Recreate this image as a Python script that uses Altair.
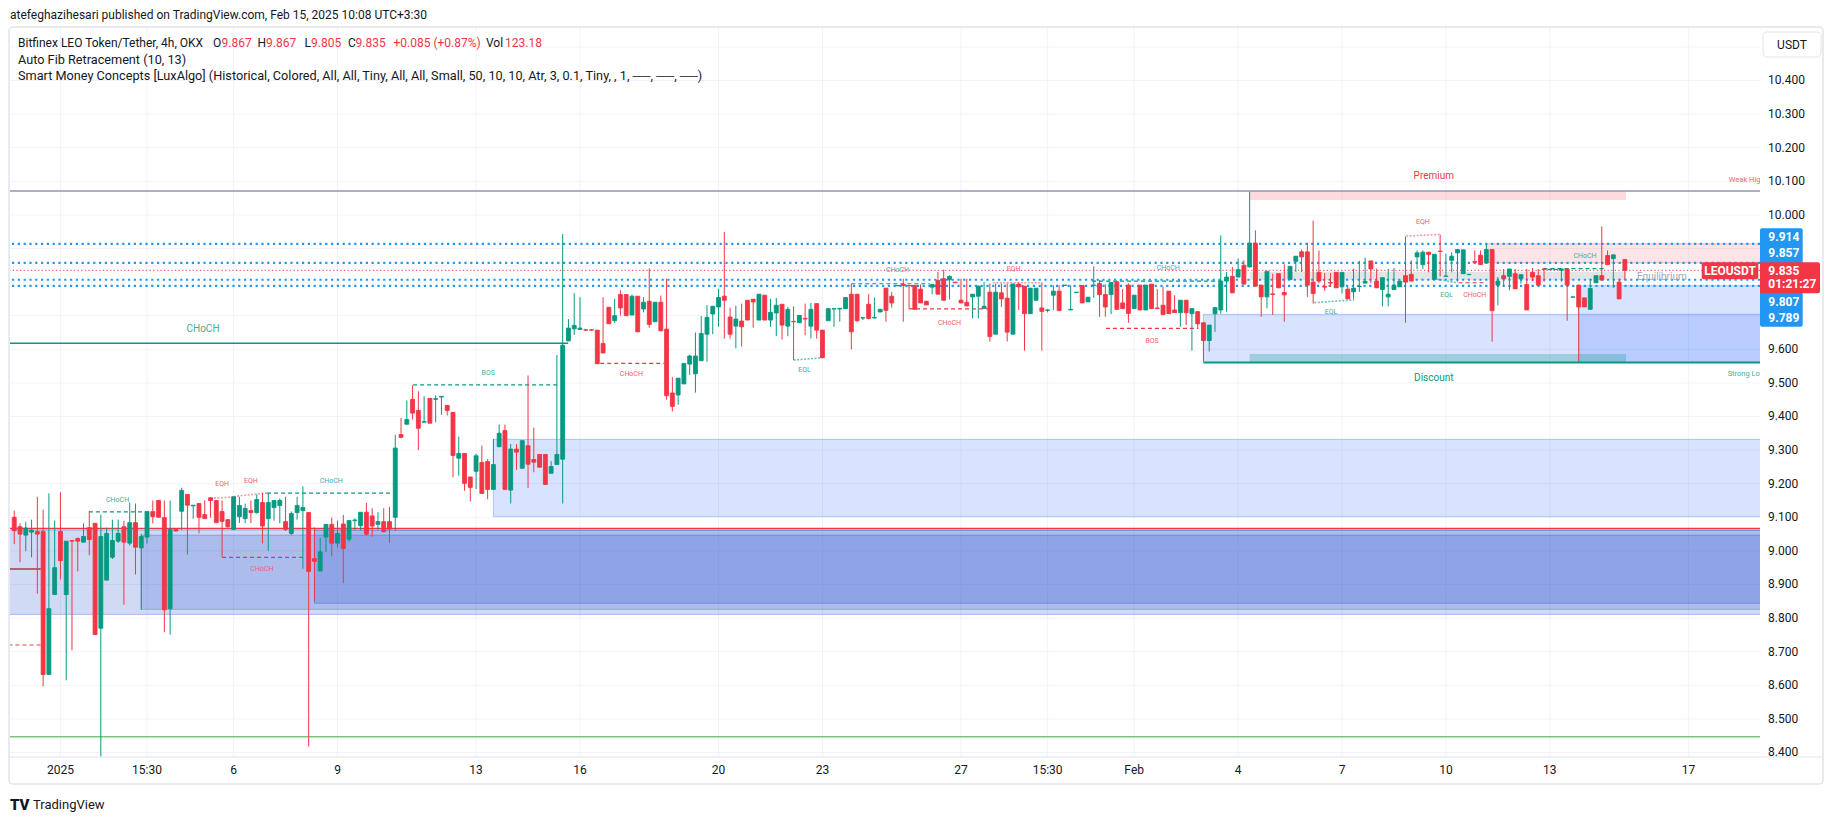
import altair as alt
import pandas as pd

# ---------------------------------------------------------------- data
# 4h bars; bar index n = 0 is 2025-01-01 00:00, first visible bar is n = -8
N0 = -8
opens = [
    9.100, 9.072, 9.047, 9.056, 9.058, 9.058, 8.632, 8.870, 9.058, 8.870,
    9.031, 9.037, 9.026, 9.069, 9.082, 8.770, 8.913, 8.981, 9.029, 9.072,
    9.023, 9.084, 9.009, 9.041, 9.117, 9.150, 9.099, 8.828, 9.064, 9.118,
    9.168, 9.134, 9.141, 9.108, 9.158, 9.150, 9.117, 9.093, 9.064, 9.102,
    9.096, 9.120, 9.114, 9.144, 9.096, 9.129, 9.135, 9.087, 9.052, 9.114,
    9.120, 9.114, 8.977, 8.940, 9.041, 9.079, 9.023, 9.080, 9.035, 9.090,
    9.075, 9.115, 9.104, 9.079, 9.087, 9.087, 9.100, 9.346, 9.377, 9.451,
    9.418, 9.383, 9.454, 9.451, 9.458, 9.433, 9.412, 9.276, 9.290, 9.220,
    9.237, 9.263, 9.266, 9.183, 9.310, 9.358, 9.181, 9.303, 9.246, 9.313,
    9.272, 9.287, 9.287, 9.231, 9.257, 9.273, 9.625, 9.661, 9.659, 9.658,
    9.658, 9.657, 9.617, 9.725, 9.685, 9.763, 9.763, 9.702, 9.758, 9.720,
    9.743, 9.682, 9.740, 9.660, 9.470, 9.464, 9.497, 9.556, 9.527, 9.566,
    9.645, 9.705, 9.726, 9.758, 9.696, 9.669, 9.684, 9.746, 9.749, 9.687,
    9.761, 9.687, 9.708, 9.734, 9.669, 9.683, 9.679, 9.692, 9.669, 9.736,
    9.657, 9.685, 9.720, 9.720, 9.721, 9.764, 9.764, 9.693, 9.734, 9.693,
    9.711, 9.782, 9.758, 9.789, 9.793, 9.790, 9.790, 9.779, 9.743, 9.785,
    9.805, 9.810, 9.807, 9.800, 9.746, 9.740, 9.756, 9.758, 9.722, 9.770,
    9.645, 9.768, 9.752, 9.645, 9.794, 9.788, 9.706, 9.746, 9.723, 9.716,
    9.761, 9.773, 9.790, 9.717, 9.769, 9.790, 9.741, 9.790, 9.796, 9.763,
    9.763, 9.801, 9.738, 9.791, 9.721, 9.791, 9.717, 9.794, 9.723, 9.731,
    9.773, 9.717, 9.709, 9.746, 9.706, 9.712, 9.679, 9.626, 9.706, 9.717,
    9.803, 9.817, 9.815, 9.850, 9.845, 9.916, 9.791, 9.756, 9.765, 9.825,
    9.769, 9.808, 9.862, 9.890, 9.890, 9.800, 9.829, 9.787, 9.799, 9.829,
    9.786, 9.779, 9.771, 9.787, 9.797, 9.863, 9.803, 9.778, 9.756, 9.778,
    9.786, 9.819, 9.823, 9.875, 9.852, 9.889, 9.808, 9.892, 9.817, 9.865,
    9.887, 9.825, 9.822, 9.861, 9.880, 9.857, 9.897, 9.791, 9.819, 9.817,
    9.825, 9.810, 9.793, 9.829, 9.819, 9.839, 9.837, 9.837, 9.835, 9.839,
    9.755, 9.791, 9.753, 9.719, 9.798, 9.819, 9.879, 9.870, 9.800, 9.867,
]
highs = [
    9.120, 9.082, 9.087, 9.093, 9.161, 9.123, 9.171, 9.090, 9.174, 9.029,
    9.031, 9.040, 9.082, 9.118, 9.082, 9.108, 9.069, 9.093, 9.093, 9.090,
    9.144, 9.141, 9.051, 9.117, 9.150, 9.150, 9.150, 9.150, 9.064, 9.188,
    9.168, 9.136, 9.141, 9.150, 9.158, 9.150, 9.150, 9.093, 9.161, 9.161,
    9.141, 9.150, 9.168, 9.173, 9.173, 9.150, 9.156, 9.161, 9.117, 9.161,
    9.192, 9.114, 9.070, 9.039, 9.079, 9.099, 9.090, 9.107, 9.092, 9.097,
    9.115, 9.143, 9.127, 9.115, 9.127, 9.131, 9.346, 9.396, 9.448, 9.493,
    9.475, 9.460, 9.454, 9.463, 9.460, 9.433, 9.412, 9.340, 9.290, 9.220,
    9.289, 9.313, 9.273, 9.333, 9.376, 9.376, 9.318, 9.318, 9.328, 9.522,
    9.367, 9.287, 9.287, 9.267, 9.583, 9.943, 9.690, 9.767, 9.755, 9.660,
    9.660, 9.657, 9.755, 9.725, 9.750, 9.776, 9.763, 9.763, 9.758, 9.755,
    9.841, 9.740, 9.760, 9.810, 9.517, 9.514, 9.558, 9.584, 9.650, 9.699,
    9.731, 9.728, 9.780, 9.949, 9.724, 9.730, 9.736, 9.746, 9.749, 9.764,
    9.761, 9.750, 9.753, 9.734, 9.726, 9.728, 9.701, 9.736, 9.738, 9.736,
    9.657, 9.721, 9.721, 9.722, 9.754, 9.795, 9.764, 9.694, 9.764, 9.754,
    9.719, 9.782, 9.771, 9.791, 9.810, 9.791, 9.790, 9.793, 9.743, 9.793,
    9.830, 9.837, 9.820, 9.800, 9.810, 9.810, 9.764, 9.790, 9.800, 9.796,
    9.796, 9.796, 9.796, 9.796, 9.798, 9.788, 9.782, 9.782, 9.798, 9.720,
    9.791, 9.791, 9.791, 9.791, 9.770, 9.790, 9.755, 9.847, 9.806, 9.793,
    9.799, 9.801, 9.779, 9.796, 9.761, 9.791, 9.791, 9.794, 9.779, 9.786,
    9.773, 9.761, 9.746, 9.746, 9.721, 9.712, 9.679, 9.672, 9.724, 9.939,
    9.830, 9.845, 9.870, 9.865, 10.069, 9.954, 9.791, 9.832, 9.825, 9.825,
    9.853, 9.847, 9.877, 9.897, 9.917, 9.983, 9.894, 9.827, 9.827, 9.829,
    9.829, 9.786, 9.840, 9.863, 9.873, 9.863, 9.840, 9.813, 9.839, 9.842,
    9.803, 9.936, 9.865, 9.894, 9.894, 9.889, 9.883, 9.941, 9.885, 9.889,
    9.897, 9.896, 9.824, 9.894, 9.894, 9.914, 9.897, 9.815, 9.839, 9.839,
    9.839, 9.822, 9.839, 9.842, 9.839, 9.840, 9.839, 9.839, 9.839, 9.839,
    9.756, 9.791, 9.753, 9.810, 9.819, 9.966, 9.894, 9.882, 9.810, 9.867,
]
lows = [
    9.020, 8.966, 8.999, 8.981, 8.873, 8.597, 8.632, 8.870, 8.915, 8.615,
    8.704, 8.939, 9.026, 8.987, 8.751, 8.388, 8.913, 8.976, 9.024, 8.840,
    9.016, 8.930, 8.825, 9.022, 9.082, 9.100, 8.758, 8.751, 9.059, 9.062,
    8.989, 9.096, 9.052, 9.096, 9.099, 9.084, 8.982, 9.069, 9.064, 9.083,
    9.083, 9.083, 9.111, 9.022, 9.000, 9.090, 9.082, 9.059, 9.047, 9.093,
    8.947, 8.418, 8.850, 8.940, 8.997, 8.984, 9.010, 8.904, 9.027, 9.062,
    9.062, 9.045, 9.042, 9.062, 9.055, 9.024, 9.060, 9.335, 9.377, 9.391,
    9.300, 9.383, 9.380, 9.383, 9.405, 9.403, 9.219, 9.224, 9.179, 9.147,
    9.184, 9.171, 9.154, 9.183, 9.310, 9.183, 9.141, 9.241, 9.246, 9.187,
    9.234, 9.249, 9.198, 9.231, 9.257, 9.141, 9.625, 9.643, 9.659, 9.655,
    9.655, 9.557, 9.589, 9.676, 9.679, 9.700, 9.700, 9.702, 9.652, 9.710,
    9.664, 9.682, 9.655, 9.450, 9.415, 9.435, 9.497, 9.524, 9.471, 9.566,
    9.563, 9.645, 9.667, 9.632, 9.632, 9.603, 9.608, 9.687, 9.664, 9.687,
    9.687, 9.667, 9.639, 9.629, 9.639, 9.568, 9.679, 9.642, 9.632, 9.632,
    9.575, 9.685, 9.667, 9.682, 9.721, 9.600, 9.682, 9.687, 9.689, 9.692,
    9.711, 9.682, 9.724, 9.788, 9.682, 9.720, 9.719, 9.738, 9.732, 9.764,
    9.764, 9.746, 9.748, 9.798, 9.738, 9.729, 9.692, 9.692, 9.720, 9.623,
    9.645, 9.726, 9.623, 9.645, 9.717, 9.596, 9.706, 9.746, 9.596, 9.710,
    9.717, 9.715, 9.789, 9.717, 9.768, 9.738, 9.741, 9.753, 9.697, 9.697,
    9.705, 9.717, 9.721, 9.679, 9.721, 9.717, 9.717, 9.721, 9.721, 9.703,
    9.706, 9.709, 9.667, 9.672, 9.596, 9.662, 9.563, 9.593, 9.652, 9.706,
    9.712, 9.768, 9.815, 9.794, 9.845, 9.788, 9.697, 9.722, 9.702, 9.783,
    9.682, 9.808, 9.830, 9.830, 9.756, 9.736, 9.796, 9.774, 9.786, 9.783,
    9.766, 9.750, 9.750, 9.771, 9.797, 9.797, 9.783, 9.728, 9.728, 9.778,
    9.786, 9.679, 9.803, 9.839, 9.839, 9.829, 9.808, 9.817, 9.817, 9.829,
    9.801, 9.825, 9.821, 9.859, 9.852, 9.857, 9.623, 9.731, 9.786, 9.776,
    9.780, 9.796, 9.717, 9.803, 9.788, 9.801, 9.836, 9.836, 9.801, 9.685,
    9.754, 9.563, 9.726, 9.719, 9.798, 9.806, 9.852, 9.783, 9.750, 9.805,
]
closes = [
    9.060, 9.050, 9.068, 9.062, 9.050, 8.632, 8.828, 8.950, 8.971, 9.029,
    9.029, 9.029, 9.043, 9.034, 8.751, 9.043, 9.052, 9.031, 9.052, 9.026,
    9.084, 9.011, 9.043, 9.117, 9.102, 9.100, 8.825, 9.064, 9.059, 9.180,
    9.136, 9.136, 9.100, 9.096, 9.150, 9.084, 9.088, 9.072, 9.161, 9.135,
    9.126, 9.114, 9.153, 9.074, 9.144, 9.150, 9.150, 9.064, 9.111, 9.135,
    9.129, 8.939, 8.969, 8.997, 9.079, 9.023, 9.052, 9.007, 9.090, 9.092,
    9.115, 9.050, 9.074, 9.087, 9.057, 9.065, 9.306, 9.338, 9.391, 9.410,
    9.365, 9.385, 9.380, 9.453, 9.460, 9.418, 9.284, 9.290, 9.201, 9.189,
    9.283, 9.171, 9.183, 9.257, 9.350, 9.183, 9.303, 9.294, 9.328, 9.258,
    9.264, 9.249, 9.198, 9.251, 9.287, 9.612, 9.663, 9.671, 9.663, 9.657,
    9.657, 9.557, 9.589, 9.676, 9.700, 9.723, 9.700, 9.758, 9.652, 9.740,
    9.674, 9.740, 9.655, 9.462, 9.430, 9.514, 9.558, 9.580, 9.580, 9.647,
    9.695, 9.728, 9.754, 9.746, 9.645, 9.690, 9.667, 9.687, 9.741, 9.764,
    9.687, 9.710, 9.731, 9.672, 9.719, 9.682, 9.701, 9.690, 9.719, 9.657,
    9.575, 9.721, 9.721, 9.722, 9.754, 9.652, 9.685, 9.694, 9.692, 9.695,
    9.719, 9.716, 9.738, 9.790, 9.790, 9.789, 9.719, 9.738, 9.732, 9.793,
    9.764, 9.746, 9.817, 9.798, 9.738, 9.729, 9.764, 9.788, 9.728, 9.638,
    9.770, 9.750, 9.651, 9.794, 9.786, 9.706, 9.782, 9.782, 9.713, 9.717,
    9.773, 9.715, 9.791, 9.719, 9.770, 9.738, 9.755, 9.791, 9.763, 9.726,
    9.799, 9.719, 9.721, 9.707, 9.761, 9.717, 9.791, 9.721, 9.721, 9.703,
    9.706, 9.709, 9.746, 9.709, 9.721, 9.676, 9.626, 9.672, 9.724, 9.803,
    9.815, 9.768, 9.837, 9.794, 9.916, 9.788, 9.756, 9.832, 9.763, 9.783,
    9.762, 9.847, 9.877, 9.875, 9.791, 9.766, 9.803, 9.785, 9.797, 9.783,
    9.829, 9.750, 9.782, 9.788, 9.802, 9.839, 9.783, 9.813, 9.764, 9.791,
    9.803, 9.800, 9.803, 9.887, 9.889, 9.882, 9.883, 9.891, 9.818, 9.877,
    9.897, 9.896, 9.823, 9.859, 9.852, 9.897, 9.715, 9.803, 9.810, 9.839,
    9.780, 9.822, 9.717, 9.815, 9.791, 9.838, 9.838, 9.838, 9.839, 9.791,
    9.756, 9.726, 9.726, 9.781, 9.819, 9.806, 9.852, 9.881, 9.750, 9.835,
]

# time axis (bar index of each date tick) and its labels
tick_n = [0, 15, 30, 48, 72, 90, 114, 132, 156, 171, 186, 204, 222, 240, 258, 282]
tick_labels = ["2025", "15:30", "6", "9", "13", "16", "20", "23", "27", "15:30",
               "Feb", "4", "7", "10", "13", "17"]

# price axis
price_labels = [8.4, 8.5, 8.6, 8.7, 8.8, 8.9, 9.0, 9.1, 9.2, 9.3, 9.4, 9.5, 9.6,
                10.0, 10.1, 10.2, 10.3, 10.4]
grid_prices = [8.4, 8.5, 8.6, 8.7, 8.8, 8.9, 9.0, 9.1, 9.2, 9.3, 9.4, 9.5, 9.6,
               9.7, 9.8, 9.9, 10.0, 10.1, 10.2, 10.3, 10.4, 10.5]

# fib levels (blue dotted) and last price
fib_levels = [9.914, 9.857, 9.807, 9.789]
last_price = 9.835
timer = "01:21:27"

# order blocks / zones: start bar, end bar, low, high, kind
box_n1 = [-9, 14, 44, 75, 198, 263, 247]
box_n2 = [300, 300, 300, 300, 300, 300, 300]
box_lo = [8.811, 8.826, 8.844, 9.102, 9.561, 9.561, 9.857]
box_hi = [9.062, 9.047, 9.062, 9.332, 9.704, 9.789, 9.914]
box_kind = ["bullA", "bullA", "bullA", "bullB", "bullB", "bullB", "bear"]

zone_n1 = [206, 206, 206]
zone_n2 = [271.2, 271.2, 271.2]
zone_lo = [10.044, 9.806, 9.561]
zone_hi = [10.071, 9.831, 9.586]
zone_kind = ["premium", "equilibrium", "discount"]

# solid structure lines
sl_n1 = [-9, -9, -9, -9, 198, -9]
sl_n2 = [300, 300, 300, 87.96, 300, -3.4]
sl_p = [10.071, 9.067, 8.447, 9.618, 9.561, 8.946]
sl_kind = ["weakhigh", "red", "green", "choch", "stronglow", "maroon"]

# dashed BOS / CHoCH lines
dl_n1 = [-9, 4.93, 35.8, 28, 61.1, 93.5, 137, 147, 178.7, 181.1, 242.2, 256.9]
dl_n2 = [-3.4, 14.9, 57.6, 42, 86.4, 104.6, 150.6, 161, 201.1, 197.1, 246.5, 267.7]
dl_p = [8.720, 9.116, 9.172, 8.981, 9.494, 9.558, 9.795, 9.720, 9.803, 9.662, 9.798, 9.840]
dl_bull = [False, True, True, False, True, False, True, False, True, False, False, True]

# dotted EQH / EQL links
eq_n1 = [26, 30, 127, 161.5, 217.2, 233.1, 238.4]
eq_n2 = [30, 35.8, 132, 170.1, 224.1, 239.2, 241.9]
eq_p1 = [9.157, 9.162, 9.568, 9.798, 9.739, 9.937, 9.809]
eq_p2 = [9.160, 9.172, 9.575, 9.798, 9.747, 9.942, 9.798]
eq_bull = [False, False, True, False, True, False, True]

# structure labels
lab_text = ["CHoCH", "CHoCH", "EQH", "EQH", "CHoCH", "CHoCH", "BOS", "CHoCH", "EQL",
            "CHoCH", "CHoCH", "EQH", "CHoCH", "BOS", "EQL", "EQH", "EQL", "CHoCH", "CHoCH"]
lab_n = [24.7, 9.9, 28.0, 33.0, 46.9, 34.9, 74.1, 98.9, 128.9,
         145.0, 154.0, 165.1, 191.9, 189.1, 220.1, 236.0, 240.1, 245.0, 264.1]
lab_p = [9.660, 9.151, 9.198, 9.207, 9.207, 8.945, 9.529, 9.526, 9.538,
         9.835, 9.679, 9.838, 9.841, 9.626, 9.712, 9.980, 9.762, 9.762, 9.879]
lab_bull = [True, True, False, False, True, False, True, False, True,
            True, False, False, True, False, True, False, True, False, True]
lab_big = [True] + [False] * 18

zone_lab_text = ["Premium", "Discount", "Equilibrium"]
zone_lab_n = [237.9, 237.9, 277.4]
zone_lab_p = [10.117, 9.515, 9.816]
edge_lab_text = ["Weak High", "Strong Low"]
edge_lab_n = [289.0, 288.8]
edge_lab_p = [10.104, 9.527]

# ---------------------------------------------------------------- style
FONT = "Roboto"
GREEN = "#089981"
RED = "#f23645"
BLUE = "#2196f3"
TXT = "#131722"
GRID = "#f0f3fa"
FRAME = "#e0e3eb"
LEGEND_FS = 12.7

PLOT_W, PLOT_H = 1750, 730
X_DOM = [-7.87, 293.54]
Y_DOM = [8.3866, 10.5592]
xs = alt.Scale(domain=X_DOM, nice=False, zero=False)
ys = alt.Scale(domain=Y_DOM, nice=False, zero=False)

box_fill = {"bullA": "#1848cc", "bullB": "#2962ff", "bear": RED}
box_alpha = {"bullA": 0.2, "bullB": 0.18, "bear": 0.13}
zone_fill = {"premium": RED, "equilibrium": "#787b86", "discount": GREEN}
zone_alpha = {"premium": 0.18, "equilibrium": 0.2, "discount": 0.28}
sl_color = {"weakhigh": "#8f96b0", "red": RED, "green": "#7cc47f", "choch": GREEN,
            "stronglow": GREEN, "maroon": "#b2334a"}
sl_width = {"weakhigh": 1.5, "red": 1.5, "green": 1.5, "choch": 1.5, "stronglow": 2, "maroon": 1.5}

# ---------------------------------------------------------------- frames
candles = pd.DataFrame({"n": list(range(N0, N0 + len(opens))), "o": opens, "h": highs,
                        "l": lows, "c": closes})
candles["dir"] = ["up" if c >= o else "down" for o, c in zip(opens, closes)]
dir_scale = alt.Scale(domain=["up", "down"], range=[GREEN, RED])

boxes = pd.DataFrame({"n1": box_n1, "n2": box_n2, "lo": box_lo, "hi": box_hi,
                      "col": [box_fill[k] for k in box_kind],
                      "a": [box_alpha[k] for k in box_kind]})
zones = pd.DataFrame({"n1": zone_n1, "n2": zone_n2, "lo": zone_lo, "hi": zone_hi,
                      "col": [zone_fill[k] for k in zone_kind],
                      "a": [zone_alpha[k] for k in zone_kind]})
solid = pd.DataFrame({"n1": sl_n1, "n2": sl_n2, "p": sl_p,
                      "col": [sl_color[k] for k in sl_kind],
                      "w": [sl_width[k] for k in sl_kind]})
dashed = pd.DataFrame({"n1": dl_n1, "n2": dl_n2, "p": dl_p,
                       "col": [GREEN if b else RED for b in dl_bull]})
eqs = pd.DataFrame({"n1": eq_n1, "n2": eq_n2, "p1": eq_p1, "p2": eq_p2,
                    "col": ["#6cc3b3" if b else "#f59aa3" for b in eq_bull]})
labels = pd.DataFrame({"n": lab_n, "p": lab_p, "t": lab_text,
                       "col": ["#3fae98" if b else "#f2606d" for b in lab_bull],
                       "fs": [10 if b else 7 for b in lab_big]})
zlabels = pd.DataFrame({"n": zone_lab_n, "p": zone_lab_p, "t": zone_lab_text,
                        "col": [RED, GREEN, "#a3a6af"]})
elabels = pd.DataFrame({"n": edge_lab_n, "p": edge_lab_p, "t": edge_lab_text,
                        "col": ["#f2606d", "#3fae98"]})
grid_h = pd.DataFrame({"p": grid_prices})
grid_v = pd.DataFrame({"n": tick_n})
xlab = pd.DataFrame({"n": tick_n, "t": tick_labels})
ylab = pd.DataFrame({"p": price_labels, "t": [f"{v:.3f}" for v in price_labels]})
fibs = pd.DataFrame({"p": fib_levels})
lastp = pd.DataFrame({"p": [last_price]})
dummy = pd.DataFrame({"a": [0]})

X = lambda f: alt.X(f, scale=xs, axis=None)
Y = lambda f: alt.Y(f, scale=ys, axis=None)

layers = []

# grid
layers.append(alt.Chart(grid_h).mark_rule(color=GRID, strokeWidth=1).encode(y=Y("p:Q")))
layers.append(alt.Chart(grid_v).mark_rule(color=GRID, strokeWidth=1).encode(x=X("n:Q")))

# boxes and zones
layers.append(alt.Chart(boxes).mark_rect(clip=True, strokeWidth=1, strokeOpacity=0.3).encode(
    x=X("n1:Q"), x2="n2:Q", y=Y("lo:Q"), y2="hi:Q",
    fill=alt.Fill("col:N", scale=None), stroke=alt.Stroke("col:N", scale=None),
    fillOpacity=alt.FillOpacity("a:Q", scale=None)))
layers.append(alt.Chart(zones).mark_rect(clip=True).encode(
    x=X("n1:Q"), x2="n2:Q", y=Y("lo:Q"), y2="hi:Q",
    fill=alt.Fill("col:N", scale=None), fillOpacity=alt.FillOpacity("a:Q", scale=None)))

# horizontal lines
layers.append(alt.Chart(solid).mark_rule(clip=True).encode(
    x=X("n1:Q"), x2="n2:Q", y=Y("p:Q"),
    color=alt.Color("col:N", scale=None), size=alt.Size("w:Q", scale=None)))
layers.append(alt.Chart(dashed).mark_rule(clip=True, strokeDash=[4, 3], strokeWidth=1.2).encode(
    x=X("n1:Q"), x2="n2:Q", y=Y("p:Q"), color=alt.Color("col:N", scale=None)))
layers.append(alt.Chart(eqs).mark_rule(clip=True, strokeDash=[2, 1.5], strokeWidth=1.6).encode(
    x=X("n1:Q"), x2="n2:Q", y=Y("p1:Q"), y2="p2:Q", color=alt.Color("col:N", scale=None)))
layers.append(alt.Chart(fibs).mark_rule(strokeDash=[2.2, 3.6], strokeWidth=2.2, color=BLUE).encode(
    y=Y("p:Q")))
layers.append(alt.Chart(lastp).mark_rule(strokeDash=[1.2, 2.4], strokeWidth=1, color=RED).encode(
    y=Y("p:Q")))

# candles
layers.append(alt.Chart(candles).mark_rule(clip=True, strokeWidth=1).encode(
    x=X("n:Q"), y=Y("l:Q"), y2="h:Q",
    color=alt.Color("dir:N", scale=dir_scale, legend=None)))
layers.append(alt.Chart(candles).mark_bar(clip=True, size=3.9, strokeWidth=0.9).encode(
    x=X("n:Q"), y=Y("o:Q"), y2="c:Q",
    fill=alt.Fill("dir:N", scale=dir_scale, legend=None),
    stroke=alt.Stroke("dir:N", scale=dir_scale, legend=None)))

# axis labels (through the scales)
layers.append(alt.Chart(xlab).mark_text(font=FONT, fontSize=12, color=TXT, baseline="middle").encode(
    x=X("n:Q"), y=alt.value(743), text="t:N"))
layers.append(alt.Chart(ylab).mark_text(font=FONT, fontSize=12, color=TXT, align="left",
                                        baseline="middle").encode(
    y=Y("p:Q"), x=alt.value(1758), text="t:N"))

# structure labels
layers.append(alt.Chart(labels).mark_text(font=FONT, baseline="middle").encode(
    x=X("n:Q"), y=Y("p:Q"), text="t:N", color=alt.Color("col:N", scale=None),
    size=alt.Size("fs:Q", scale=None)))
layers.append(alt.Chart(zlabels).mark_text(font=FONT, fontSize=10, baseline="middle").encode(
    x=X("n:Q"), y=Y("p:Q"), text="t:N", color=alt.Color("col:N", scale=None)))
layers.append(alt.Chart(elabels).mark_text(font=FONT, fontSize=7.5, align="left", baseline="middle",
                                           clip=True).encode(
    x=X("n:Q"), y=Y("p:Q"), text="t:N", color=alt.Color("col:N", scale=None)))


# ---------------------------------------------------------------- chrome (pixel placed)
def rect(x1, y1, x2, y2, **kw):
    return alt.Chart(dummy).mark_rect(**kw).encode(
        x=alt.value(x1), x2=alt.value(x2), y=alt.value(y1), y2=alt.value(y2))


def text(x, y, s, size=12, color=TXT, weight="normal", align="left", font=FONT):
    return alt.Chart(dummy).mark_text(text=s, font=font, fontSize=size, color=color,
                                      fontWeight=weight, align=align, baseline="middle").encode(
        x=alt.value(x), y=alt.value(y))


layers.append(rect(-1, 0, 1813, 757, fill="transparent", stroke=FRAME, strokeWidth=1.5,
                   cornerRadius=4))
layers.append(alt.Chart(dummy).mark_rule(color=FRAME, strokeWidth=1).encode(
    x=alt.value(-1), x2=alt.value(1813), y=alt.value(730)))

# header
layers.append(text(0, -12, "atefeghazihesari published on TradingView.com, Feb 15, 2025 10:08 UTC+3:30"))
hdr = [(8, "Bitfinex LEO Token/Tether, 4h, OKX", TXT), (203, "O", TXT), (211.5, "9.867", RED),
       (247.5, "H", TXT), (256, "9.867", RED), (294.5, "L", TXT), (301, "9.805", RED),
       (338, "C", TXT), (345.5, "9.835", RED), (383.5, "+0.085 (+0.87%)", RED),
       (476, "Vol", TXT), (495, "123.18", RED)]
for x, s, c in hdr:
    layers.append(text(x, 15.5, s, color=c, size=12))
layers.append(text(8, 32.5, "Auto Fib Retracement (10, 13)", size=LEGEND_FS))
layers.append(text(8, 49, "Smart Money Concepts [LuxAlgo] (Historical, Colored, All, All, Tiny, All, "
                          "All, Small, 50, 10, 10, Atr, 3, 0.1, Tiny, , 1, \u2500\u2500, \u2500\u2500, \u2500\u2500)",
                   size=LEGEND_FS))

# USDT box
layers.append(rect(1753, 5, 1811, 30, fill="white", stroke=FRAME, strokeWidth=1, cornerRadius=4))
layers.append(text(1782, 17.5, "USDT", align="center"))

# price tags on the axis
layers.append(rect(1750, 201.3, 1792.7, 299.7, fill=BLUE, cornerRadius=2))
layers.append(rect(1750, 235.3, 1810, 266.3, fill=RED, cornerRadius=2))
layers.append(rect(1691.7, 235.3, 1748.3, 252.3, fill=RED, cornerRadius=2))
layers.append(text(1720, 243.8, "LEOUSDT", color="white", weight="bold", align="center"))
tag_y = [209.7, 226.3, 274.7, 291.3]
for yy, v in zip(tag_y, fib_levels):
    layers.append(text(1758.3, yy, f"{v:.3f}", color="white", weight="bold"))
layers.append(text(1758.3, 243.7, f"{last_price:.3f}", color="white", weight="bold"))
layers.append(text(1758.3, 257.3, timer, color="white", weight="bold"))

# logo
layers.append(text(0, 778, "TV", size=15, weight=900))
layers.append(text(23, 778, "TradingView", size=13))

chart = alt.layer(*layers).properties(
    width=PLOT_W, height=PLOT_H,
    padding={"left": 10, "top": 27, "right": 75, "bottom": 64},
    autosize=alt.AutoSizeParams(type="none"),
    background="white",
).configure_view(stroke=None)

chart.save("out.html", embed_options={"renderer": "svg", "actions": False})
